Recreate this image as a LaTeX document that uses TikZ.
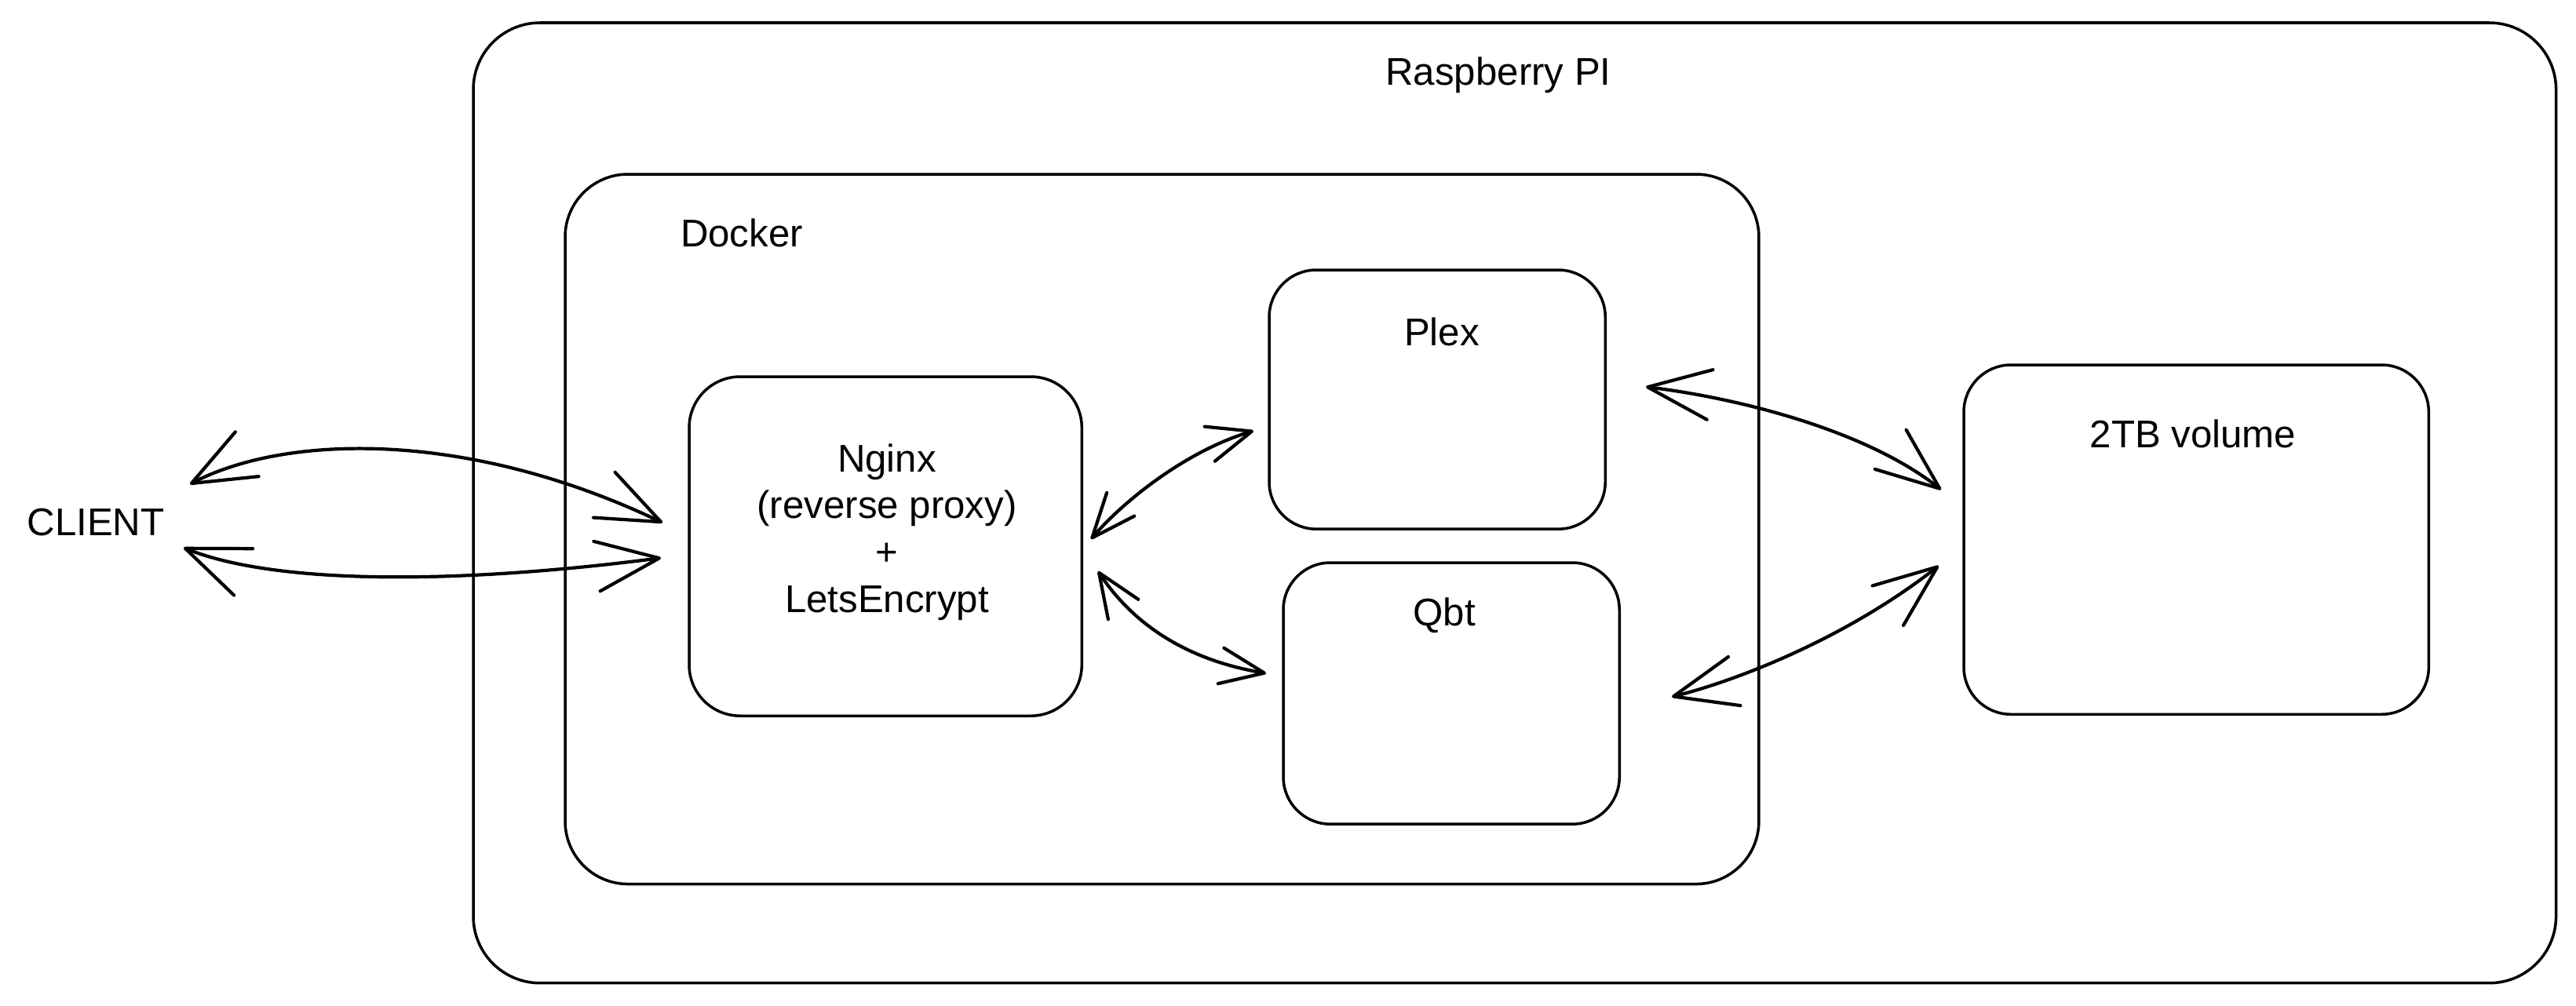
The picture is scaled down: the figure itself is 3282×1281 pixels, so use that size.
\documentclass[tikz,border=0pt]{standalone}
\usepackage{fontspec}
\setmainfont{Liberation Sans}
\usetikzlibrary{arrows.meta}
\begin{document}
\begin{tikzpicture}[x=0.01cm,y=-0.01cm,
  box/.style={draw, line width=1pt, rounded corners=#1, inner sep=0pt, outer sep=0pt, anchor=north west},
  lbl/.style={font=\fontsize{14}{17}\selectfont, inner sep=0pt, align=center},
  conn/.style={line width=1.2pt, line cap=round, line join=round},
  bigtip/.style={{Straight Barb[length=8mm,width=6.4mm,round]}-{Straight Barb[length=8mm,width=6.4mm,round]}},
  smalltip/.style={{Straight Barb[length=5.6mm,width=4.6mm,round]}-{Straight Barb[length=5.6mm,width=4.6mm,round]}}
]
\useasboundingbox (0,0) rectangle (3282,1281);

% boxes
\node[box=0.85cm, minimum width=26.52cm, minimum height=12.23cm] (rpi) at (603,29) {};
\node[box=0.8cm, minimum width=15.20cm, minimum height=9.04cm] (docker) at (720,222) {};
\node[box=0.65cm, minimum width=5.00cm, minimum height=4.32cm] (nginx) at (878,480) {};
\node[box=0.6cm, minimum width=4.28cm, minimum height=3.30cm] (plex) at (1617,344) {};
\node[box=0.6cm, minimum width=4.28cm, minimum height=3.33cm] (qbt) at (1635,717) {};
\node[box=0.6cm, minimum width=5.92cm, minimum height=4.45cm] (vol) at (2502,465) {};

% labels
\node[lbl] (rpilbl) at (1909,96) {Raspberry PI};
\node[lbl] (dockerlbl) at (945,297) {Docker};
\node[lbl] (nginxlbl) at (1130,678) {Nginx\\(reverse proxy)\\+\\LetsEncrypt};
\node[lbl] (plexlbl) at (1837,423) {Plex};
\node[lbl] (qbtlbl) at (1840,784) {Qbt};
\node[lbl] (vollbl) at (2794,553) {2TB volume};
\node[lbl] (client) at (122,666) {CLIENT};

% connector end points
\coordinate (c1) at (242,617);
\coordinate (n1) at (844,666);
\coordinate (c2) at (234,698);
\coordinate (n2) at (842,711);
\coordinate (n3) at (1390,687);
\coordinate (p1) at (1597,549);
\coordinate (n4) at (1399,728);
\coordinate (q1) at (1613,858);
\coordinate (p2) at (2097,493);
\coordinate (v1) at (2473,624);
\coordinate (q2) at (2130,888);
\coordinate (v2) at (2470,721);

% connectors
\draw[conn, bigtip] (c1) .. controls (360,555) and (590,545) .. (n1);
\draw[conn, bigtip] (c2) .. controls (350,745) and (580,745) .. (n2);
\draw[conn, smalltip] (n3) .. controls (1430,640) and (1510,575) .. (p1);
\draw[conn, smalltip] (n4) .. controls (1440,790) and (1505,840) .. (q1);
\draw[conn, bigtip] (p2) .. controls (2220,508) and (2380,550) .. (v1);
\draw[conn, bigtip] (q2) .. controls (2210,868) and (2350,815) .. (v2);
\end{tikzpicture}
\end{document}
